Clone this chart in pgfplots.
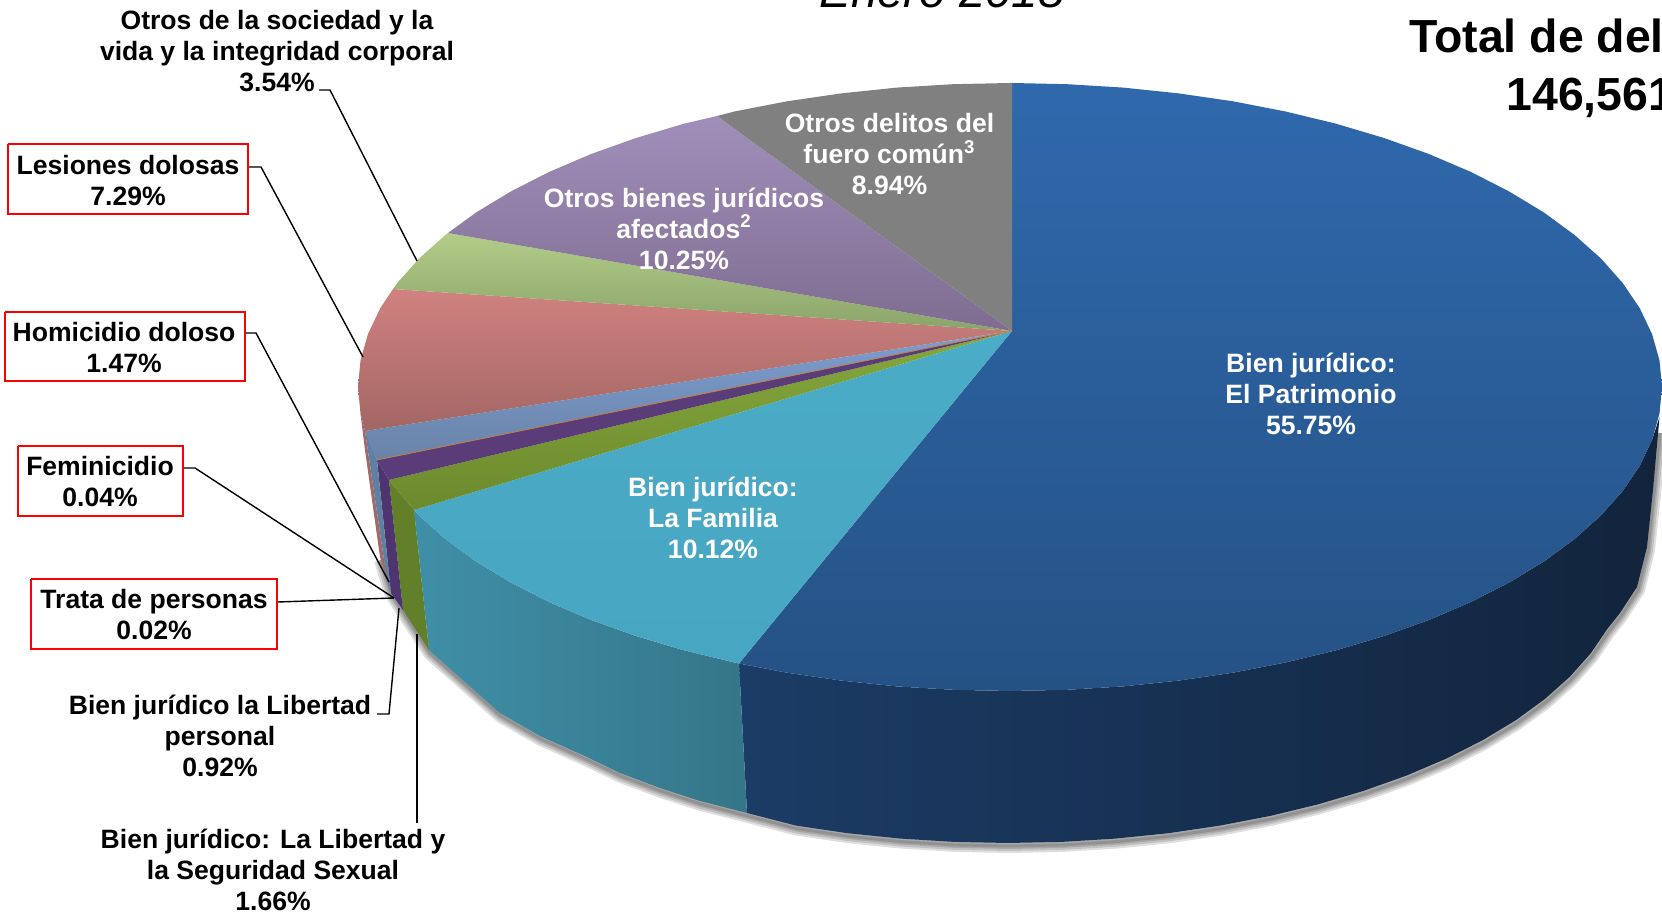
\documentclass[border=0pt]{standalone}
\usepackage{pgfplots}
\pgfplotsset{compat=1.18}
\usepackage{fontspec}
\setmainfont{Liberation Sans}
\definecolor{bluetop}{HTML}{2F69AD}\definecolor{bluebot}{HTML}{255285}
\definecolor{purtop}{HTML}{A18FBB}\definecolor{purbot}{HTML}{7F6C90}
\definecolor{grntop}{HTML}{B3CD88}\definecolor{grnbot}{HTML}{8AA36A}
\definecolor{redtop}{HTML}{D08280}\definecolor{redbot}{HTML}{A26664}
\definecolor{lbtop}{HTML}{7C9ED0}\definecolor{lbbot}{HTML}{6A83A8}
\definecolor{vio}{HTML}{5A3C78}
\definecolor{ogtop}{HTML}{85A83C}\definecolor{ogbot}{HTML}{6C8A2E}
\definecolor{cytop}{HTML}{4BACC8}\definecolor{cybot}{HTML}{47A6C1}
\definecolor{cysl}{HTML}{3F8FA8}\definecolor{cysr}{HTML}{357688}
\definecolor{dkl}{HTML}{1B3C66}\definecolor{dkm}{HTML}{11233B}\definecolor{dkr}{HTML}{12243C}
\definecolor{ogs}{HTML}{62802A}\definecolor{vios}{HTML}{4F3570}\definecolor{lbs}{HTML}{5F7FA3}\definecolor{reds}{HTML}{A0696A}
\tikzset{lead/.style={black,line width=0.7pt},
 lab/.style={font=\fontsize{13.27pt}{15.5pt}\selectfont\bfseries,align=center,inner sep=0pt,text=black},
 wlab/.style={lab,text=white},
 redbox/.style={draw=red,line width=1pt,fill=white}}
\begin{document}
\begin{tikzpicture}
\path[use as bounding box] (0,0) rectangle (831pt,456.5pt);
\begin{axis}[at={(0,0)},anchor=south west,scale only axis,width=831pt,height=456.5pt,
 xmin=0,xmax=1662,ymin=0,ymax=913,y dir=reverse,hide axis,clip=true]
% soft shadow under the outer wall
\pgfplotsinvokeforeach{7,5,3,1.5}{
\addplot[draw=black,opacity=0.13,line width=#1pt,xshift=0.5pt,yshift=-1.5pt,line join=round] coordinates {
(380,557)(390,590)(403,610)(429,650)(465,682)(500,713)(540,736)(587,757)(620,773)(660,788)(700,801)(747,813)(796,825.6)(847.5,833.2)(900.4,838.6)(953.9,841.9)(1008,843)(1062.1,841.9)(1115.6,838.6)(1168.5,833.2)(1220,825.6)(1270,816)(1318,804.4)(1363.6,790.9)(1406.5,775.6)(1446.4,758.6)(1482.9,740.1)(1515.9,720.2)(1544.9,699)(1569.9,676.7)(1590.6,653.5)(1606.9,629.5)(1620,613)(1637,587)(1647,547)(1653,490)(1659,430)};
}
% outer walls
\addplot[draw=none,left color=dkl,middle color=dkm,right color=dkr] coordinates {
(739,663.5)(787,672.7)(841.3,680.6)(896.8,686.4)(953.1,689.8)(1010,691)(1066.9,689.8)(1123.2,686.4)(1178.7,680.6)(1233,672.7)(1285.5,662.5)(1336,650.3)(1384,636)(1429.1,619.9)(1471,602)(1509.4,582.4)(1544.1,561.4)(1574.6,539)(1600.9,515.5)(1622.7,491)(1639.8,465.7)(1652.1,439.8)(1659.5,417)(1653,490)(1647,547)(1637,587)(1620,613)(1606.9,629.5)(1590.6,653.5)(1569.9,676.7)(1544.9,699)(1515.9,720.2)(1482.9,740.1)(1446.4,758.6)(1406.5,775.6)(1363.6,790.9)(1318,804.4)(1270,816)(1220,825.6)(1168.5,833.2)(1115.6,838.6)(1062.1,841.9)(1008,843)(953.9,841.9)(900.4,838.6)(847.5,833.2)(796,825.6)(747,813)};
\addplot[draw=none,left color=cysl,right color=cysr] coordinates {
(414,510)(419.1,515.5)(445.4,539)(475.9,561.4)(510.6,582.4)(549,602)(590.9,619.9)(636,636)(684,650.3)(734.5,662.5)(739,663.5)(747,813)(700,801)(660,788)(620,773)(587,757)(540,736)(500,713)(465,682)(429,650)};
\addplot[draw=none,fill=ogs] coordinates {(389,480)(414,510)(429,650)(403,610)};
\addplot[draw=none,fill=vios] coordinates {(377,460)(389,480)(403,610)(391,593)};
\addplot[draw=none,fill=lbs] coordinates {(365,431)(377,460)(391,593)(387,580)};
\addplot[draw=none,fill=reds] coordinates {(360.5,413.5)(365,431)(387,580)(380,557)(372,500)(365,450)};
% top faces
\addplot[draw=none,top color=bluetop,bottom color=bluebot] coordinates {
(1012,331)(1012,83)(1066.9,84.2)(1123.2,87.6)(1178.7,93.4)(1233,101.3)(1285.5,111.5)(1336,123.7)(1384,138)(1429.1,154.1)(1471,172)(1509.4,191.6)(1544.1,212.6)(1574.6,235)(1600.9,258.5)(1622.7,283)(1639.8,308.3)(1652.1,334.2)(1659.5,360.5)(1662,387)(1659.5,413.5)(1652.1,439.8)(1639.8,465.7)(1622.7,491)(1600.9,515.5)(1574.6,539)(1544.1,561.4)(1509.4,582.4)(1471,602)(1429.1,619.9)(1384,636)(1336,650.3)(1285.5,662.5)(1233,672.7)(1178.7,680.6)(1123.2,686.4)(1066.9,689.8)(1010,691)(953.1,689.8)(896.8,686.4)(841.3,680.6)(787,672.7)(739,663.5)};
\addplot[draw=none,top color=cytop,bottom color=cybot] coordinates {
(1012,331)(739,663.5)(734.5,662.5)(684,650.3)(636,636)(590.9,619.9)(549,602)(510.6,582.4)(475.9,561.4)(445.4,539)(419.1,515.5)(414,510)};
\addplot[draw=none,top color=ogtop,bottom color=ogbot] coordinates {(1012,331)(414,510)(389,480)};
\addplot[draw=none,fill=vio] coordinates {(1012,331)(389,480)(377,460)};
\addplot[draw=none,top color=lbtop,bottom color=lbbot] coordinates {(1012,331)(377,460)(367.9,439.8)(365,431)};
\addplot[draw=none,top color=redtop,bottom color=redbot] coordinates {(1012,331)(365,431)(360.5,413.5)(358,387)(360.5,360.5)(367.9,334.2)(380.2,308.3)(393,289)};
\addplot[draw=none,top color=grntop,bottom color=grnbot] coordinates {(1012,331)(393,289)(397.3,283)(419.1,258.5)(445.4,235)(448,233)};
\addplot[draw=none,top color=purtop,bottom color=purbot] coordinates {(1012,331)(448,233)(475.9,212.6)(510.6,191.6)(549,172)(590.9,154.1)(636,138)(684,123.7)(717,116)};
\addplot[draw=none,fill=black!50] coordinates {(1012,331)(717,116)(734.5,111.5)(787,101.3)(841.3,93.4)(896.8,87.6)(953.1,84.2)(1010,83)(1012,83)};
% the two very thin slices
\addplot[draw={rgb,255:red,200;green,122;blue,58},line width=0.4pt] coordinates {(1012,331)(377,460)};
% leader lines
\addplot[lead] coordinates {(319,90)(330,90)(417,261)};
\addplot[lead] coordinates {(249,167)(261,167)(363,357)};
\addplot[lead] coordinates {(246,333)(256,333)(389,582)};
\addplot[lead] coordinates {(184,468)(195,468)(394,598)};
\addplot[lead] coordinates {(278,602)(394,598)};
\addplot[lead] coordinates {(377,714)(389,714)(399,608)};
\addplot[lead] coordinates {(417,823)(417,634)};
% red boxes
\addplot[redbox] coordinates {(8,144)(248,144)(248,214)(8,214)(8,144)};
\addplot[redbox] coordinates {(5,312)(245,312)(245,381)(5,381)(5,312)};
\addplot[redbox] coordinates {(18,446)(183,446)(183,516)(18,516)(18,446)};
\addplot[redbox] coordinates {(31,579)(277,579)(277,649)(31,649)(31,579)};
% labels
\node[lab] at (277,51) {Otros de la sociedad y la\\vida y la integridad corporal\\3.54\%};
\node[lab] at (128,180.5) {Lesiones dolosas\\7.29\%};
\node[lab] at (124,347) {Homicidio doloso\\1.47\%};
\node[lab] at (100,482) {Feminicidio\\0.04\%};
\node[lab] at (154,615) {Trata de personas\\0.02\%};
\node[lab] at (220,736) {Bien jurídico la Libertad\\personal\\0.92\%};
\node[lab] at (273,870) {Bien jurídico: La Libertad y\\la Seguridad Sexual\\1.66\%};
\node[wlab] at (1311,394) {Bien jurídico:\\El Patrimonio\\55.75\%};
\node[wlab] at (713,517.5) {Bien jurídico:\\La Familia\\10.12\%};
\node[wlab] at (684,228.5) {Otros bienes jurídicos\\afectados\textsuperscript{2}\\10.25\%};
\node[wlab] at (889.5,154) {Otros delitos del\\fuero común\textsuperscript{3}\\8.94\%};
\node[anchor=base,inner sep=0pt,font=\fontsize{23.7pt}{28pt}\selectfont\itshape] at (942,8) {Enero 2018};
\node[anchor=base west,inner sep=0pt,font=\fontsize{23.2pt}{29pt}\selectfont\bfseries] at (1409,53) {Total de delitos};
\node[anchor=base west,inner sep=0pt,font=\fontsize{23.2pt}{29pt}\selectfont\bfseries] at (1506,111) {146,561};
\end{axis}
\end{tikzpicture}
\end{document}
